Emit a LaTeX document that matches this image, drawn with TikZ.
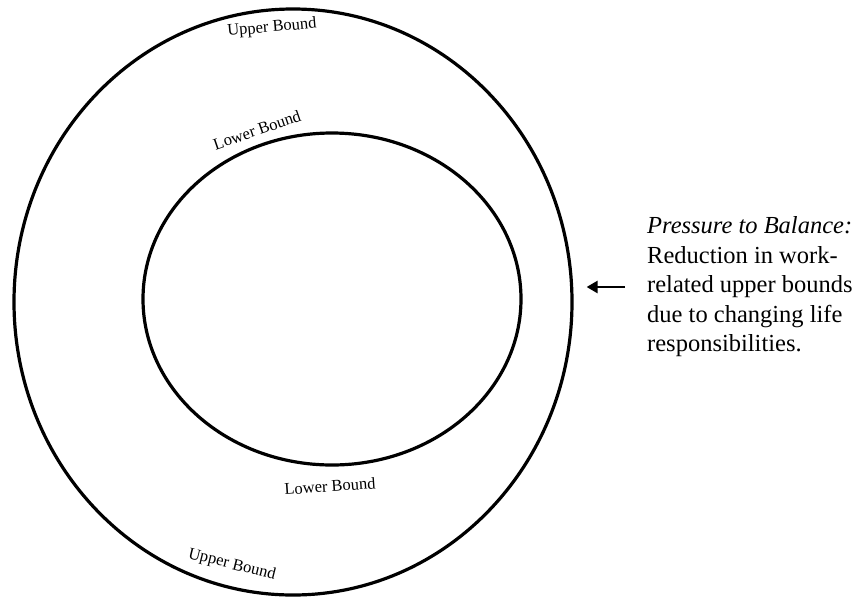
\documentclass[tikz,border=0pt]{standalone}
\usepackage{fontspec}
\setmainfont{Liberation Serif}
\usetikzlibrary{shapes.geometric}
\usetikzlibrary{positioning}
\usetikzlibrary{arrows.meta}

\tikzset{
  bound/.style={ellipse, draw, line width=3.2pt, inner sep=0pt},
  boundlabel/.style={inner sep=0pt, font=\fontsize{16.5}{19}\selectfont},
}

\begin{document}
\begin{tikzpicture}[x=1pt,y=-1pt]
      \useasboundingbox (0,0) rectangle (859,598);

      % the two bounds
      \node[bound, minimum width=558pt, minimum height=586pt] (Outer) at (293,302) {};
      \node[bound, minimum width=378pt, minimum height=332pt] (Inner) at (332,299) {};

      \node[boundlabel, rotate=5] (UpperTop) at (272,28) {Upper Bound};
      \node[boundlabel, rotate=-14] (UpperBottom) at (232,565) {Upper Bound};
      \node[boundlabel, rotate=19] (LowerTop) at (257,130) {Lower Bound};
      \node[boundlabel, rotate=4] (LowerBottom) at (330,486) {Lower Bound};

      % note on the right
      \node[anchor=west, align=left, inner sep=0pt, font=\fontsize{24.5}{29.5}\selectfont] (Note) at (647,287)
        {\textit{Pressure to Balance:}\\Reduction in work-\\related upper bounds\\due to changing life\\responsibilities.};

      \draw[line width=2.6pt, -{Triangle[length=11pt,width=12pt]}, shorten <=22pt, shorten >=13pt]
        (Note.west) -- (Note.west -| Outer.east);
\end{tikzpicture}
\end{document}
